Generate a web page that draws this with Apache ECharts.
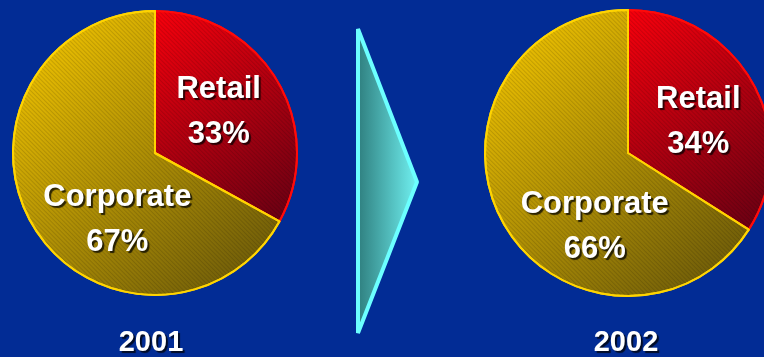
<!DOCTYPE html>
<html>
<head>
<meta charset="utf-8">
<script src="https://cdn.jsdelivr.net/npm/echarts@6/dist/echarts.min.js"></script>
<style>
  html, body { margin: 0; padding: 0; background: #022c95; }
  #chart { width: 764px; height: 357px; }
</style>
</head>
<body>
<div id="chart"></div>
<script>
// Business mix by segment, two years side by side
const years = ['2001', '2002'];
const segments = ['Retail', 'Corporate'];
const share2001 = [33, 67];
const share2002 = [34, 66];
const shares = [share2001, share2002];

// Layout of each pie (center, radius) and label nudges per segment
const pieCenters = [[155, 153], [628, 153]];
const pieRadius = [142, 143];
const labelNudge = [
  [[0, -3], [26, 29]],
  [[5, 5], [32, 38]]
];

const fontFamily = '"Liberation Sans", Arial, Helvetica, sans-serif';

// Fine diagonal hatching laid over the slice fills
const hatch = {
  symbol: 'rect',
  symbolSize: 1,
  dashArrayX: [1, 0],
  dashArrayY: [1, 2],
  rotation: Math.PI / 4,
  color: 'rgba(0,0,0,0.13)'
};

const sliceStyles = [
  {
    color: new echarts.graphic.LinearGradient(0, 0, 1, 1, [
      { offset: 0, color: '#f8000c' },
      { offset: 1, color: '#640013' }
    ]),
    borderColor: '#ff0a0a',
    borderWidth: 2,
    decal: hatch
  },
  {
    color: new echarts.graphic.LinearGradient(0, 0, 1, 1, [
      { offset: 0, color: '#fccc00' },
      { offset: 1, color: '#62520a' }
    ]),
    borderColor: '#ffd400',
    borderWidth: 2,
    decal: hatch
  }
];

const labelText = {
  color: '#ffffff',
  fontFamily: fontFamily,
  fontWeight: 'bold',
  fontSize: 31,
  lineHeight: 45,
  textShadowColor: 'rgba(0,0,0,0.75)',
  textShadowBlur: 1,
  textShadowOffsetX: 2,
  textShadowOffsetY: 2
};

const series = years.map((year, i) => ({
  type: 'pie',
  name: year,
  center: pieCenters[i],
  radius: [0, pieRadius[i]],
  startAngle: 90,
  clockwise: true,
  silent: true,
  label: Object.assign({
    show: true,
    position: 'inside',
    formatter: '{b}\n{c}%'
  }, labelText),
  labelLine: { show: false },
  labelLayout: function (params) {
    const n = labelNudge[i][params.dataIndex];
    return { dx: n[0], dy: n[1] };
  },
  emphasis: { disabled: true },
  data: segments.map((name, k) => ({
    name: name,
    value: shares[i][k],
    itemStyle: sliceStyles[k]
  }))
}));

// Year captions under each pie
const yearCaptions = years.map((year, i) => ({
  type: 'text',
  x: pieCenters[i][0] - 4 + i * 2,
  y: 343,
  silent: true,
  style: {
    text: year,
    align: 'center',
    verticalAlign: 'middle',
    fill: '#ffffff',
    font: 'bold 29px ' + fontFamily,
    textShadowColor: 'rgba(0,0,0,0.75)',
    textShadowBlur: 1,
    textShadowOffsetX: 2,
    textShadowOffsetY: 2
  }
}));

// Transition arrow between the two years
const arrow = {
  type: 'polygon',
  silent: true,
  shape: { points: [[358, 29], [358, 333], [417, 182]] },
  style: {
    fill: new echarts.graphic.LinearGradient(0, 0, 1, 0, [
      { offset: 0, color: '#2d7c7c' },
      { offset: 1, color: '#72f4f4' }
    ]),
    stroke: '#6cffff',
    lineWidth: 4,
    lineJoin: 'bevel'
  }
};

const chart = echarts.init(document.getElementById('chart'), null, { renderer: 'canvas' });
chart.setOption({
  backgroundColor: '#022c95',
  animation: false,
  tooltip: { show: false },
  series: series,
  graphic: [arrow].concat(yearCaptions)
});
</script>
</body>
</html>
